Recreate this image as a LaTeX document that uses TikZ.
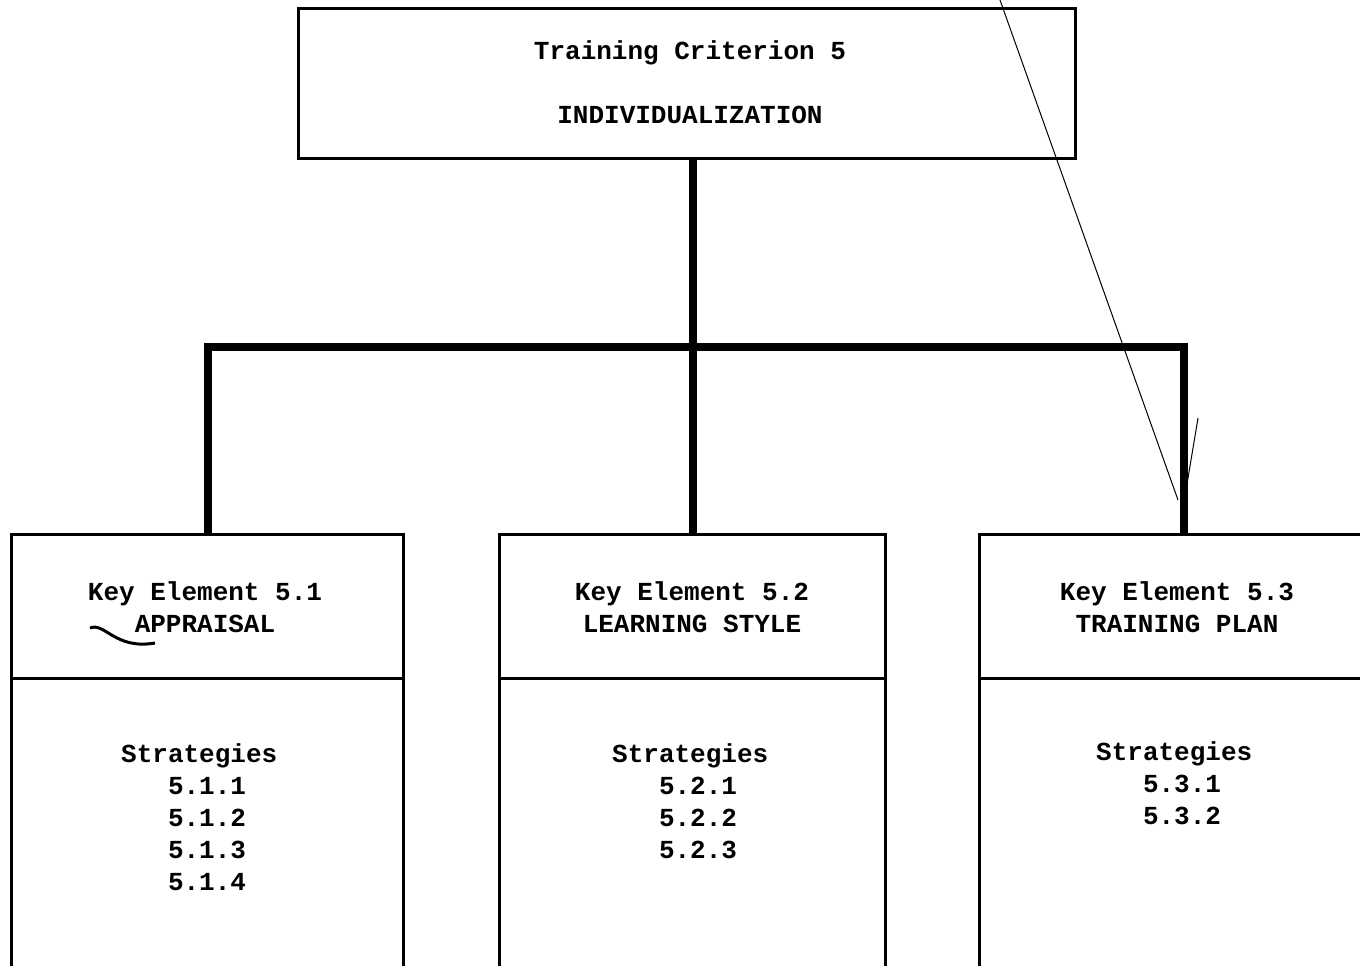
\documentclass[tikz,border=0pt]{standalone}
\usepackage{fontspec}
\setmonofont{Liberation Mono}
\begin{document}
\begin{tikzpicture}[x=1pt,y=-1pt]
        % Define styles for shapes
        \tikzset{box/.style={draw, line width=3pt, inner sep=0pt},
                 branch/.style={line width=8pt},
                 label/.style={font=\ttfamily\bfseries\fontsize{26}{32}\selectfont, align=center, inner sep=0pt}}
        \useasboundingbox (0,0) rectangle (1360,966);
        \clip (0,0) rectangle (1360,966);

        % Criterion box
        \node[box, minimum width=777pt, minimum height=149pt] (crit) at (686.5,83.5) {};
        \node[label] (crittext) at (690,82) {Training Criterion 5\\[32pt]INDIVIDUALIZATION};

        % Key element boxes
        \node[box, anchor=north west, minimum width=392pt, minimum height=460pt] (ke1) at (10,533) {};
        \node[box, anchor=north west, minimum width=386pt, minimum height=460pt] (ke2) at (498,533) {};
        \node[box, anchor=north west, minimum width=408pt, minimum height=460pt] (ke3) at (978,533) {};
        \foreach \k in {ke1,ke2,ke3}
            \draw[line width=3pt] ([yshift=-145pt]\k.north west) -- ([yshift=-145pt]\k.north east);

        % Headings
        \node[label] (head1) at (205,607) {Key Element 5.1\\APPRAISAL};
        \node[label] (head2) at (692,607) {Key Element 5.2\\LEARNING STYLE};
        \node[label] (head3) at (1177,607) {Key Element 5.3\\TRAINING PLAN};

        % Strategies
        \node[label, align=left, anchor=north west] (str1) at (121,743) {
            Strategies\\
            \phantom{Str}5.1.1\\
            \phantom{Str}5.1.2\\
            \phantom{Str}5.1.3\\
            \phantom{Str}5.1.4};
        \node[label, align=left, anchor=north west] (str2) at (612,743) {
            Strategies\\
            \phantom{Str}5.2.1\\
            \phantom{Str}5.2.2\\
            \phantom{Str}5.2.3};
        \node[label, align=left, anchor=north west] (str3) at (1096,741) {
            Strategies\\
            \phantom{Str}5.3.1\\
            \phantom{Str}5.3.2};

        % Connectors
        \coordinate (bar) at (690,347);
        \draw[branch] (ke2.north) -- (ke2.north |- crit.south);
        \draw[branch] (ke1.north) |- (bar) -| (ke3.north);

        % Pen marks on the sheet
        \coordinate (markA) at (1000,0);
        \coordinate (markB) at (1178,500);
        \coordinate (markC) at (1198,418);
        \coordinate (markD) at (1186,490);
        \draw[line width=1pt] (markA) -- (markB);
        \draw[line width=1pt] (markC) -- (markD);
        \draw[line width=3pt] (90,628) .. controls (105,622) and (115,650) .. (155,643);
    \end{tikzpicture}
\end{document}
